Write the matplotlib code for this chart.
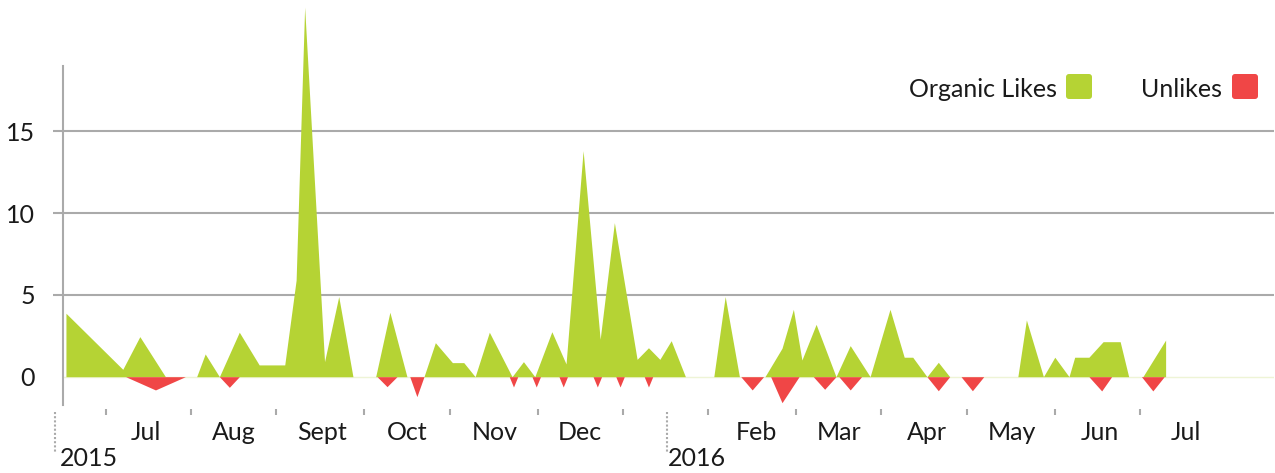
import matplotlib
matplotlib.use('Agg')
import matplotlib.pyplot as plt
import pandas as pd
from matplotlib.patches import FancyBboxPatch
from matplotlib.transforms import IdentityTransform

plt.rcParams['font.family'] = ['Lato', 'DejaVu Sans']
plt.rcParams['font.size'] = 18

# 有机点赞（绿色面积）
like_dates = ['2015-06-03', '2015-06-23', '2015-06-29', '2015-07-08', '2015-07-19', '2015-07-22', '2015-07-27',
              '2015-08-03', '2015-08-10', '2015-08-19', '2015-08-23', '2015-08-26', '2015-09-02', '2015-09-07',
              '2015-09-12', '2015-09-20', '2015-09-25', '2015-10-01', '2015-10-07', '2015-10-11', '2015-10-17',
              '2015-10-21', '2015-10-25', '2015-10-30', '2015-11-07', '2015-11-11', '2015-11-15', '2015-11-21',
              '2015-11-26', '2015-12-02', '2015-12-08', '2015-12-13', '2015-12-21', '2015-12-25', '2015-12-29',
              '2016-01-02', '2016-01-07', '2016-01-17', '2016-01-21', '2016-01-26', '2016-02-04', '2016-02-10',
              '2016-02-14', '2016-02-17', '2016-02-22', '2016-02-29', '2016-03-05', '2016-03-12', '2016-03-19',
              '2016-03-24', '2016-03-27', '2016-04-01', '2016-04-05', '2016-04-09', '2016-05-03', '2016-05-06',
              '2016-05-12', '2016-05-16', '2016-05-21', '2016-05-23', '2016-05-28', '2016-06-02', '2016-06-08',
              '2016-06-11', '2016-06-16', '2016-06-24']
like_values = [3.88, 0.45, 2.45, 0, 0, 1.39, 0,
               2.72, 0.72, 0.72, 5.9, 22.6, 0.92, 4.9,
               0, 0, 3.94, 0, 0, 2.08, 0.86,
               0.86, 0, 2.72, 0, 0.92, 0, 2.75,
               0.78, 13.82, 2.29, 9.42, 1.06, 1.77, 1.06,
               2.2, 0, 0, 4.9, 0, 0, 1.74,
               4.12, 1.02, 3.2, 0, 1.9, 0, 4.12,
               1.19, 1.19, 0, 0.88, 0, 0, 3.47,
               0, 1.19, 0, 1.19, 1.19, 2.14, 2.14,
               0, 0, 2.24]

# 取消点赞（红色面积，负值）
unlike_dates = ['2015-06-24', '2015-07-04 12:00', '2015-07-15',
                '2015-07-27', '2015-07-30 12:00', '2015-08-03',
                '2015-09-20 12:00', '2015-09-24', '2015-09-27 12:00',
                '2015-10-02', '2015-10-04 12:00', '2015-10-07',
                '2015-11-06', '2015-11-07 12:00', '2015-11-09',
                '2015-11-14', '2015-11-15 12:00', '2015-11-17',
                '2015-11-23 12:00', '2015-11-25', '2015-11-26 12:00',
                '2015-12-05 12:00', '2015-12-07', '2015-12-08 12:00',
                '2015-12-13 12:00', '2015-12-15', '2015-12-16 12:00',
                '2015-12-23 12:00', '2015-12-25', '2015-12-26 12:00',
                '2016-01-26 12:00', '2016-01-30 12:00', '2016-02-03 12:00',
                '2016-02-06', '2016-02-10', '2016-02-16',
                '2016-02-21', '2016-02-25', '2016-02-29',
                '2016-03-01', '2016-03-05', '2016-03-09',
                '2016-04-01', '2016-04-05', '2016-04-09',
                '2016-04-13', '2016-04-17', '2016-04-21',
                '2016-05-28', '2016-06-01 12:00', '2016-06-05',
                '2016-06-15 12:00', '2016-06-19 12:00', '2016-06-23 12:00']
unlike_values = [0, -0.81, 0,
                 0, -0.65, 0,
                 0, -0.61, 0,
                 0, -1.22, 0,
                 0, -0.63, 0,
                 0, -0.63, 0,
                 0, -0.63, 0,
                 0, -0.63, 0,
                 0, -0.63, 0,
                 0, -0.63, 0,
                 0, -0.81, 0,
                 0, -1.59, 0,
                 0, -0.77, 0,
                 0, -0.81, 0,
                 0, -0.86, 0,
                 0, -0.86, 0,
                 0, -0.87, 0,
                 0, -0.87, 0]

month_starts = ['2015-07-01', '2015-08-01', '2015-09-01', '2015-10-01', '2015-11-01', '2015-12-01',
                '2016-02-01', '2016-03-01', '2016-04-01', '2016-05-01', '2016-06-01', '2016-07-01']
month_labels = ['Jul', 'Aug', 'Sept', 'Oct', 'Nov', 'Dec', 'Feb', 'Mar', 'Apr', 'May', 'Jun', 'Jul']
mid_ticks = ['2015-06-17', '2015-07-17', '2015-08-16', '2015-09-16', '2015-10-16', '2015-11-16',
             '2015-12-16', '2016-01-15', '2016-02-15', '2016-03-16', '2016-04-15', '2016-05-16',
             '2016-06-15']
year_marks = ['2015-05-30', '2015-12-31 12:00']
year_text_dates = ['2015-06-01', '2016-01-01']
year_labels = ['2015', '2016']

green = '#b5d334'
red = '#f04646'
grey = '#aaaaaa'
text_c = '#1a1a1a'

to_dt = lambda s: pd.to_datetime(s, format='ISO8601')

fig = plt.figure(figsize=(12.75, 4.73), dpi=100)
ax = fig.add_axes([0.0495, 0.1353, 0.9494, 0.7252])

# 浅色零线
ax.axhline(0, color='#eef4d6', lw=1, zorder=1)

g = ax.fill_between(to_dt(like_dates), like_values, 0, color=green, lw=0, zorder=2)
g.set_clip_on(False)
ax.fill_between(to_dt(unlike_dates), unlike_values, 0, color=red, lw=0, zorder=2)

ax.set_xlim(to_dt('2015-06-02'), to_dt('2016-08-01'))
ax.set_ylim(-1.976, 19.0)

for s in ['top', 'right', 'bottom']:
    ax.spines[s].set_visible(False)
ax.spines['left'].set_color(grey)
ax.spines['left'].set_linewidth(1.5)
ax.spines['left'].set_bounds(-1.73, 19.0)

ax.set_yticks([0, 5, 10, 15])
ax.tick_params(axis='y', length=7.2, width=1.5, color=grey, pad=13, labelcolor=text_c)
ax.grid(axis='y', color=grey, lw=1.5)
yt = ax.yaxis.get_major_ticks()[0]
yt.tick1line.set_visible(False)
yt.gridline.set_visible(False)

ax.set_xticks(to_dt(mid_ticks))
ax.set_xticklabels([])
ax.set_xticks(to_dt(month_starts), minor=True)
ax.set_xticklabels(month_labels, minor=True)
ax.tick_params(axis='x', which='major', length=4.3, width=1.5, color=grey, direction='out')
ax.tick_params(axis='x', which='minor', length=0, pad=8.5, labelcolor=text_c)

# 年份分隔线和标签
tr = ax.get_xaxis_transform()
for d in year_marks:
    ax.plot([to_dt(d), to_dt(d)], [-0.008, -0.1245], transform=tr, clip_on=False,
            color=grey, lw=1.5, ls=(0, (1, 1)))
for d, t in zip(year_text_dates, year_labels):
    ax.text(to_dt(d), -0.1662, t, transform=tr, ha='left', va='baseline', color=text_c)

# 图例
fig.text(1057 / 1275, 1 - 97 / 473, 'Organic Likes', ha='right', va='baseline', color=text_c)
fig.text(1222 / 1275, 1 - 97 / 473, 'Unlikes', ha='right', va='baseline', color=text_c)
for x0, c in [(1066, green), (1232, red)]:
    r = 3
    p = FancyBboxPatch((x0 + r, 374 + r), 26 - 2 * r, 25 - 2 * r,
                       boxstyle='round,pad=%d' % r, fc=c, ec='none', transform=IdentityTransform())
    fig.add_artist(p)

fig.savefig('out.png', dpi=100)
